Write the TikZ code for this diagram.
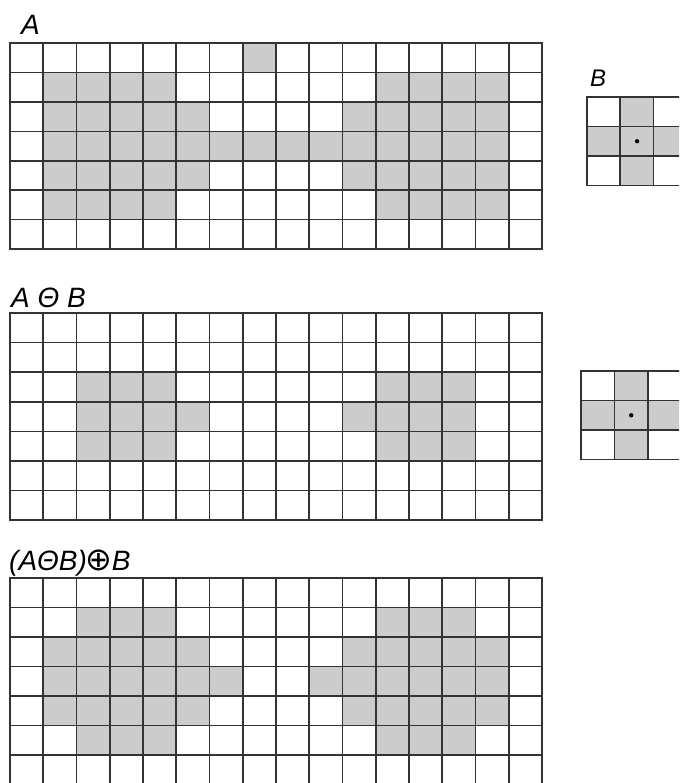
\documentclass[tikz,border=0pt]{standalone}
\usepackage{fontspec}
\setmainfont{Liberation Sans}
\newfontfamily\djv{DejaVu Sans}
\newcommand\mygrid[7]{%
  % #1 x0, #2 y0, #3 cols, #4 rows, #5 cell w, #6 row h, #7 gray cells r/c
  \begin{scope}[shift={(#1,#2)}]
    \foreach \r/\c in {#7} \fill[cellfill] (\c*#5,\r*#6) rectangle ++(#5,#6);
    \foreach \i in {0,...,#3} \draw[gridline] (\i*#5,0) -- (\i*#5,#4*#6);
    \foreach \j in {0,...,#4} \draw[gridline] (0,\j*#6) -- (#3*#5,\j*#6);
  \end{scope}}
\begin{document}
\begin{tikzpicture}[x=1pt,y=-1pt,
  cellfill/.style={fill=black!20},
  gridline/.style={draw=black!80,line width=1.6pt,line cap=rect},
  lab/.style={anchor=base west,inner sep=0pt,font=\fontsize{28}{28}\selectfont\itshape},
  labsmall/.style={anchor=base west,inner sep=0pt,font=\fontsize{24}{24}\selectfont\itshape}]
\useasboundingbox (0,0) rectangle (679,783);
\fill[white] (0,0) rectangle (679,783);
\clip (0,0) rectangle (679,783);
% A
\mygrid{10}{43}{16}{7}{33.25}{29.45}{0/7,1/1,1/2,1/3,1/4,1/11,1/12,1/13,1/14,2/1,2/2,2/3,2/4,2/5,2/10,2/11,2/12,2/13,2/14,3/1,3/2,3/3,3/4,3/5,3/6,3/7,3/8,3/9,3/10,3/11,3/12,3/13,3/14,4/1,4/2,4/3,4/4,4/5,4/10,4/11,4/12,4/13,4/14,5/1,5/2,5/3,5/4,5/11,5/12,5/13,5/14}
% A erosion B
\mygrid{10}{313}{16}{7}{33.25}{29.6}{2/2,2/3,2/4,2/11,2/12,2/13,3/2,3/3,3/4,3/5,3/10,3/11,3/12,3/13,4/2,4/3,4/4,4/11,4/12,4/13}
% opening
\mygrid{10}{578}{16}{7}{33.25}{29.5}{1/2,1/3,1/4,1/11,1/12,1/13,2/1,2/2,2/3,2/4,2/5,2/10,2/11,2/12,2/13,2/14,3/1,3/2,3/3,3/4,3/5,3/6,3/9,3/10,3/11,3/12,3/13,3/14,4/1,4/2,4/3,4/4,4/5,4/10,4/11,4/12,4/13,4/14,5/2,5/3,5/4,5/11,5/12,5/13}
% B structuring elements
\mygrid{587}{97}{3}{3}{33.25}{29.5}{0/1,1/0,1/1,1/2,2/1}
\mygrid{581}{371}{3}{3}{33.5}{29.5}{0/1,1/0,1/1,1/2,2/1}
\fill[black] (637.1,141.3) coordinate (dotone) circle (2.2);
\fill[black] (631.2,415.3) coordinate (dottwo) circle (2.2);
% labels
\node[lab] (labA) at (21,35) {A};
\node[lab] (labAB) at (11,307) {A Θ B};
\node[lab] (labOpen) at (9,570) {(AΘB)\kern-1pt{\djv\upshape\fontsize{32}{32}\selectfont ⊕}\kern-1ptB};
\node[labsmall] (labB) at (590,87) {B};
\end{tikzpicture}
\end{document}
